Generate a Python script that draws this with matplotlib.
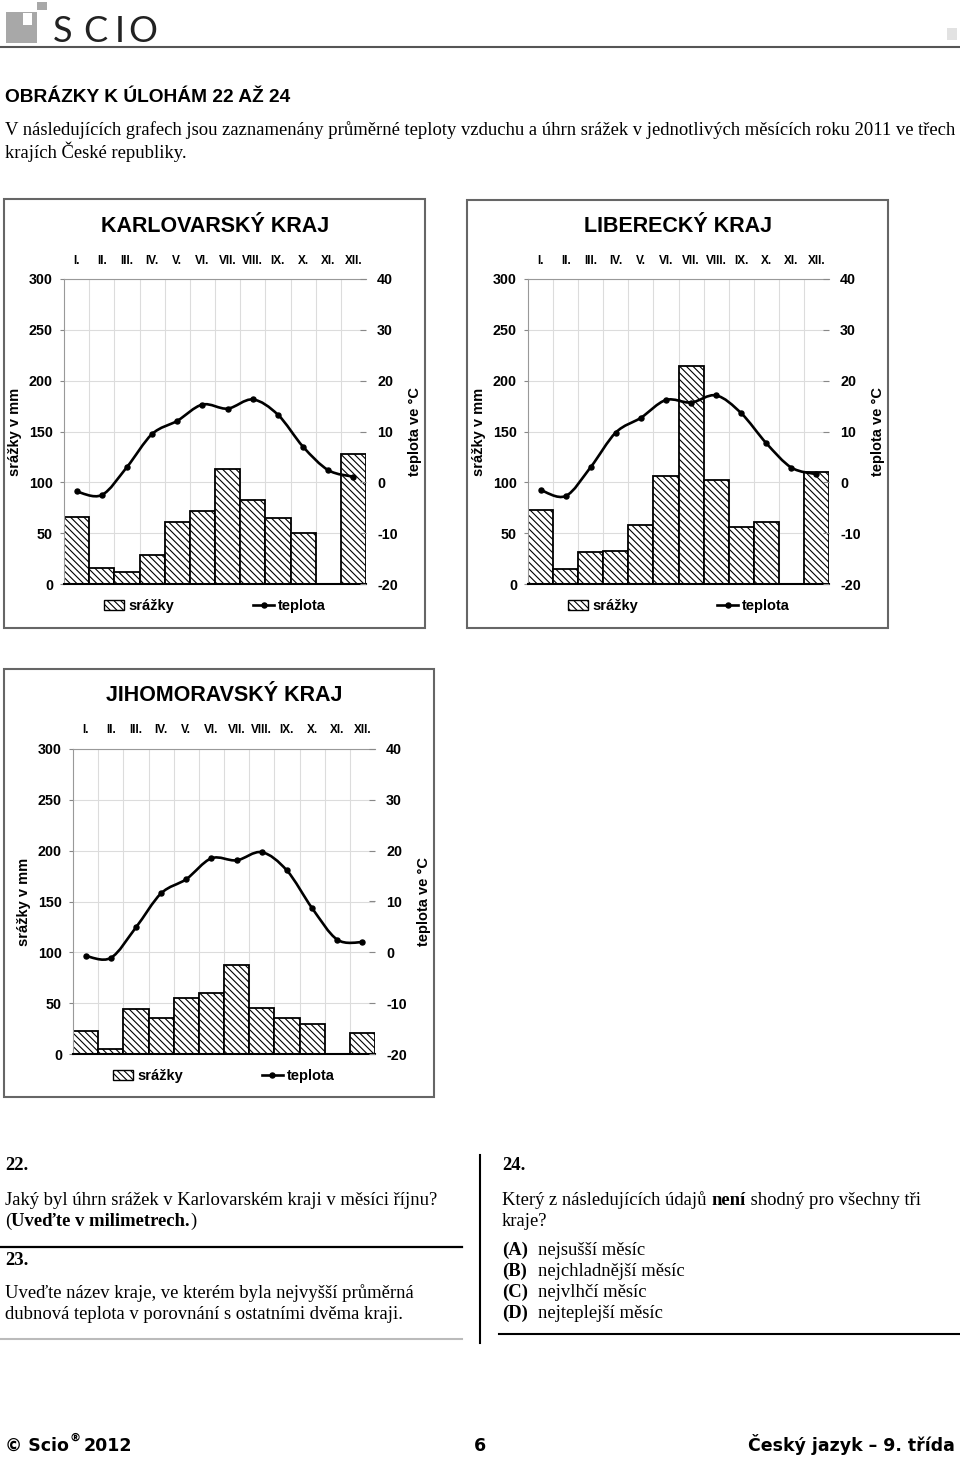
import numpy as np
import matplotlib
matplotlib.use('Agg')
import matplotlib.pyplot as plt
from matplotlib.patches import Rectangle, Patch, PathPatch
from matplotlib.lines import Line2D
from matplotlib.path import Path

plt.rcParams['font.family'] = ['Liberation Sans', 'DejaVu Sans']
plt.rcParams['axes.unicode_minus'] = False
plt.rcParams['hatch.linewidth'] = 0.8

# data
months = ['I.', 'II.', 'III.', 'IV.', 'V.', 'VI.', 'VII.', 'VIII.', 'IX.', 'X.', 'XI.', 'XII.']
kv_srazky = [66, 16, 12, 29, 61, 72, 113, 83, 65, 50, 0, 128]
kv_teplota = [-1.8, -2.5, 3.0, 9.5, 12.1, 15.3, 14.5, 16.3, 13.3, 7.0, 2.4, 1.1]
lb_srazky = [73, 15, 31, 32, 58, 106, 214, 102, 56, 61, 0, 110]
lb_teplota = [-1.5, -2.7, 3.0, 9.8, 12.7, 16.2, 15.7, 17.1, 13.6, 7.7, 2.9, 1.6]
jm_srazky = [23, 5, 44, 35, 55, 60, 88, 45, 35, 30, 0, 21]
jm_teplota = [-0.7, -1.1, 4.9, 11.6, 14.4, 18.5, 18.1, 19.7, 16.1, 8.7, 2.5, 2.0]

W, H = 960, 1458
fig = plt.figure(figsize=(W / 100, H / 100), dpi=100)
BOLD = 'bold'


def fx(x):
    return x / W


def fy(y):
    return 1 - y / H


def put(x, y, s, **kw):
    return fig.text(fx(x), fy(y), s, **kw)


def hline(x0, x1, y, color='black', lw=1.5):
    fig.add_artist(Line2D([fx(x0), fx(x1)], [fy(y), fy(y)], color=color, lw=lw,
                          transform=fig.transFigure))


def smooth_path(x, y):
    # Catmull-Rom style bezier through the points (like Excel smoothed line)
    p = np.column_stack([x, y]).astype(float)
    ext = np.vstack([p[0], p, p[-1]])
    verts = [p[0]]
    codes = [Path.MOVETO]
    for i in range(len(p) - 1):
        p0, p1, p2, p3 = ext[i], ext[i + 1], ext[i + 2], ext[i + 3]
        verts += [p1 + (p2 - p0) / 6, p2 - (p3 - p1) / 6, p2]
        codes += [Path.CURVE4] * 3
    return Path(verts, codes)


def chart(box, plot, title, srazky, teplota):
    bx0, by0, bx1, by1 = box
    fig.add_artist(Rectangle((fx(bx0), fy(by1)), (bx1 - bx0) / W, (by1 - by0) / H,
                             transform=fig.transFigure, fill=False, ec='#666666', lw=1.5))
    px0, py0, px1, py1 = plot
    ax = fig.add_axes([fx(px0), fy(py1), (px1 - px0) / W, (py1 - py0) / H])
    x = np.arange(len(months))
    ax.bar(x, srazky, width=1.0, color='white', edgecolor='black', lw=1.3,
           hatch='\\\\\\\\\\', zorder=2)
    ax.set_xlim(-0.5, 11.5)
    ax.set_ylim(0, 300)
    ax.set_yticks(range(0, 301, 50))
    ax.xaxis.tick_top()
    ax.set_xticks(x)
    ax.set_xticklabels(months, fontsize=8.5, fontweight=BOLD)
    ax.set_xticks(np.arange(0.5, 11, 1), minor=True)
    ax.tick_params(axis='x', which='both', length=0, pad=9)
    ax.grid(which='minor', axis='x', color='#dcdcdc', lw=0.8)
    ax.grid(which='major', axis='y', color='#dcdcdc', lw=0.8)
    ax.set_axisbelow(True)
    ax.tick_params(axis='y', direction='out', length=3, color='#888888', pad=5,
                   labelsize=10.3)
    for lab in ax.get_yticklabels():
        lab.set_fontweight(BOLD)
    ax.spines['top'].set_color('#999999')
    ax.spines['left'].set_color('#999999')
    ax.spines['right'].set_visible(False)
    ax.spines['bottom'].set_color('black')
    ax.spines['bottom'].set_linewidth(1.5)

    ax2 = ax.twinx()
    ax2.set_ylim(-20, 40)
    ax2.set_yticks(range(-20, 41, 10))
    ax2.tick_params(axis='y', direction='in', length=4, color='#888888', pad=8,
                    labelsize=10.3)
    for lab in ax2.get_yticklabels():
        lab.set_fontweight(BOLD)
    for s in ax2.spines.values():
        s.set_visible(False)
    ax2.add_patch(PathPatch(smooth_path(x, teplota), fill=False, ec='black', lw=1.9))
    ax2.plot(x, teplota, 'o', color='black', ms=3.6, lw=0)

    w = px1 - px0
    h = py1 - py0
    ax.text(0.5, 1 + 53 / h, title, transform=ax.transAxes, ha='center', va='center',
            fontsize=15.5, fontweight=BOLD)
    ax.text(-49 / w, 0.5, 'srážky v mm', transform=ax.transAxes, rotation=90,
            ha='center', va='center', fontsize=10.5, fontweight=BOLD)
    ax.text(1 + 49 / w, 0.5, 'teplota ve °C', transform=ax.transAxes, rotation=90,
            ha='center', va='center', fontsize=10.5, fontweight=BOLD)

    handles = [Patch(facecolor='white', edgecolor='black', hatch='\\\\\\\\\\', lw=1.0),
               Line2D([], [], color='black', lw=1.9, marker='o', ms=3.6)]
    ax2.legend(handles, ['srážky', 'teplota'], ncol=2, frameon=False,
               loc='center left', bbox_to_anchor=(40 / w, -22 / h),
               borderpad=0, borderaxespad=0, handlelength=1.4, handletextpad=0.3,
               columnspacing=5.4, prop={'size': 10.5, 'weight': BOLD})


chart((4, 199, 425, 628), (64, 279, 366, 584), 'KARLOVARSKÝ KRAJ', kv_srazky, kv_teplota)
chart((467, 200, 888, 628), (528, 279, 829, 584), 'LIBERECKÝ KRAJ', lb_srazky, lb_teplota)
chart((4, 669, 434, 1097), (73, 749, 375, 1054), 'JIHOMORAVSKÝ KRAJ', jm_srazky, jm_teplota)

# header / logo
logo = '#a8a8a8'
fig.add_artist(Rectangle((fx(6), fy(43)), 31 / W, 31 / H, transform=fig.transFigure,
                         color=logo, lw=0))
fig.add_artist(Rectangle((fx(23), fy(25)), 9 / W, 12 / H, transform=fig.transFigure,
                         color='white', lw=0))
fig.add_artist(Rectangle((fx(37), fy(10)), 10 / W, 8 / H, transform=fig.transFigure,
                         color=logo, lw=0))
fig.add_artist(Rectangle((fx(947), fy(40)), 10 / W, 12 / H, transform=fig.transFigure,
                         color='#e2e2e2', lw=0))
for ch, cx in zip('SCIO', [62.5, 95, 119.5, 142.5]):
    put(cx, 31, ch, ha='center', va='center', fontsize=26, color='#222222',
        family=['Lato', 'DejaVu Sans'])
hline(0, 960, 47, color='#555555', lw=1.5)

put(5, 97, 'OBRÁZKY K ÚLOHÁM 22 AŽ 24', va='center', fontsize=13.8, fontweight=BOLD,
    family=['Liberation Sans Narrow', 'Liberation Sans'])
serif = ['Liberation Serif', 'DejaVu Serif']
SZ = 13.4
put(5, 135, 'V následujících grafech jsou zaznamenány průměrné teploty vzduchu a úhrn '
    'srážek v jednotlivých měsících roku 2011 ve třech', va='baseline', fontsize=SZ,
    family=serif)
put(5, 158, 'krajích České republiky.', va='baseline', fontsize=SZ, family=serif)

renderer = fig.canvas.get_renderer()


def runs(x, y, parts, size=SZ):
    # y is the text centre line; place all pieces on one common baseline
    bar = put(0, 0, '|', fontsize=size, family=serif)
    base = bar.get_window_extent(renderer).width
    bar.remove()
    for s, b in parts:
        wt = BOLD if b else 'normal'
        put(x, y + 5, s, fontsize=size, family=serif, fontweight=wt, va='baseline')
        m = put(0, 0, s + '|', fontsize=size, family=serif, fontweight=wt)
        x += m.get_window_extent(renderer).width - base
        m.remove()


runs(5, 1165, [('22.', True)])
runs(5, 1200, [('Jaký byl úhrn srážek v Karlovarském kraji v měsíci říjnu?', False)])
runs(5, 1221, [('(', False), ('Uveďte v milimetrech.', True), (')', False)])
hline(0, 462, 1247, lw=1.6)
runs(5, 1260, [('23.', True)])
runs(5, 1293, [('Uveďte název kraje, ve kterém byla nejvyšší průměrná', False)])
runs(5, 1314, [('dubnová teplota v porovnání s ostatními dvěma kraji.', False)])
hline(0, 462, 1339, color='#bbbbbb', lw=1.5)
fig.add_artist(Line2D([fx(480), fx(480)], [fy(1155), fy(1343)], color='black', lw=1.5,
                      transform=fig.transFigure))

runs(502, 1165, [('24.', True)])
runs(502, 1200, [('Který z následujících údajů ', False), ('není', True),
                 (' shodný pro všechny tři', False)])
runs(502, 1221, [('kraje?', False)])
for yy, lab, txt in [(1250, '(A)', 'nejsušší měsíc'), (1271, '(B)', 'nejchladnější měsíc'),
                     (1292, '(C)', 'nejvlhčí měsíc'), (1313, '(D)', 'nejteplejší měsíc')]:
    runs(502, yy, [(lab, True)])
    runs(538, yy, [(txt, False)])
hline(499, 960, 1334, lw=1.5)

# footer
foot = {'family': ['DejaVu Sans'], 'fontweight': BOLD, 'va': 'baseline'}
t = put(5, 1451, '© Scio', fontsize=12.5, **foot)
xw = t.get_window_extent(renderer).x1
put(xw + 1, 1441, '®', fontsize=8, **foot)
put(xw + 15, 1451, '2012', fontsize=12.5, **foot)
put(480, 1451, '6', fontsize=12.5, ha='center', **foot)
put(955, 1451, 'Český jazyk – 9. třída', fontsize=12.5, ha='right', **foot)

fig.savefig('out.png', dpi=100)
